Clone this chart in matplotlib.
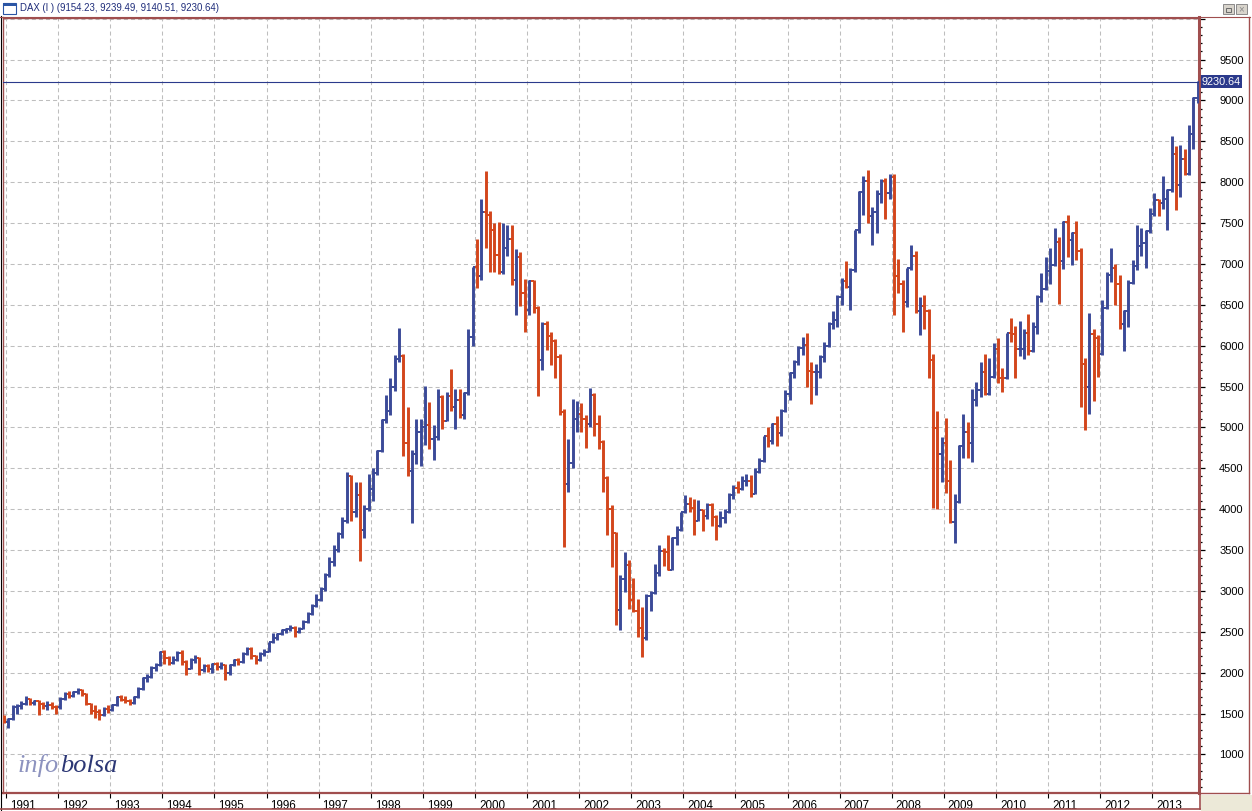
import matplotlib
matplotlib.use("Agg")
import matplotlib.pyplot as plt
import matplotlib.transforms as mtrans
from matplotlib.lines import Line2D
from matplotlib.patches import Rectangle
from matplotlib.ticker import MultipleLocator, FixedLocator
import numpy as np
import pandas as pd

plt.rcParams['font.family'] = ['Liberation Sans', 'DejaVu Sans']
plt.rcParams['lines.scale_dashes'] = False

# ---------------- data (monthly OHLC) ----------------
first_month = "1990-12-01"

open_ = [1450,
 1398,1430,1580,1590,1620,1680,1625,1650,1620,1590,1610,1580,
 1578,1680,1740,1720,1760,1790,1740,1620,1530,1520,1480,1560,
 1545,1600,1700,1670,1650,1630,1700,1800,1930,1950,2060,2090,
 2250,2180,2120,2150,2240,2130,2050,2160,2180,2030,2080,2050,
 2107,2070,2100,2000,2090,2150,2130,2230,2290,2200,2150,2230,
 2254,2370,2430,2470,2520,2530,2550,2500,2540,2620,2720,2810,
 2889,3020,3200,3350,3500,3700,3850,4400,3960,4170,3750,4000,
 4250,4440,4710,5090,5200,5500,5840,5870,4810,4470,4670,4950,
 5002,5030,4860,4880,5370,5080,5380,5250,5330,5150,5420,6100,
 6958,6850,7640,7600,7410,7110,6900,7190,7300,6800,7080,6650,
 6433,6790,6460,5830,6260,6120,6060,5860,5190,4310,4560,5100,
 5160,5100,5040,5400,5040,4820,4380,4000,3710,2770,3150,3320,
 2893,2750,2550,2420,2940,2980,3220,3490,3480,3260,3650,3750,
 3965,4060,4020,3860,3990,3920,4050,3900,3790,3890,3960,4170,
 4256,4250,4350,4350,4190,4460,4590,4890,4830,5040,4930,5200,
 5408,5670,5800,5970,6010,5690,5680,5680,5860,6000,6270,6310,
 6597,6790,6715,6920,7410,7880,8010,7580,7640,7860,8020,7870,
 8067,6850,6750,6530,6950,7100,6420,6480,6420,5830,4990,4670,
 4810,4340,3840,4085,4770,4940,4810,5330,5460,5680,5410,5620,
 5957,5610,5600,6150,6140,5960,5960,6150,5930,6230,6600,6690,
 6914,6990,7270,7040,7510,7290,7380,7160,5780,5500,6140,6090,
 5898,6460,6860,6950,6760,6260,6420,6770,6970,7220,7260,7400,
 7612,7780,7740,7800,7910,8350,7960,8280,8100,8590,9030]

high = [1480,
 1450,1600,1620,1650,1720,1690,1670,1670,1640,1650,1640,1610,
 1700,1760,1770,1780,1815,1800,1750,1630,1600,1550,1580,1600,
 1620,1720,1730,1710,1680,1720,1820,1950,1980,2080,2120,2260,
 2280,2200,2210,2270,2280,2150,2180,2220,2190,2110,2110,2120,
 2130,2130,2110,2110,2170,2180,2250,2314,2310,2220,2250,2290,
 2380,2480,2490,2540,2550,2580,2570,2560,2640,2740,2840,2960,
 3050,3220,3420,3560,3720,3900,4460,4420,4330,4330,4050,4430,
 4500,4720,5100,5400,5600,5880,6217,5900,5250,4720,5100,5100,
 5510,5310,5030,5470,5400,5430,5710,5470,5470,5430,6200,6958,
 7300,7800,8136,7650,7500,7510,7500,7470,7470,7185,7140,6820,
 6800,6800,6480,6290,6300,6170,6080,5900,5230,4860,5350,5320,
 5300,5150,5480,5420,5150,4850,4400,4050,3720,3190,3480,3380,
 3160,2900,2800,2960,3000,3330,3560,3520,3680,3660,3800,3970,
 4175,4150,4130,4110,4000,4080,4070,3930,3980,4000,4200,4300,
 4340,4400,4430,4420,4500,4630,4890,5000,5050,5140,5230,5460,
 5680,5830,6000,6100,6160,5800,5780,5880,6040,6290,6430,6620,
 6830,7040,6950,7420,7890,8070,8151,7700,7900,8040,8050,8100,
 8100,7060,6800,6950,7230,7160,6600,6620,6450,5900,5200,4880,
 5110,4600,4180,4780,5160,5070,5470,5560,5800,5900,5850,6030,
 6090,5730,6160,6340,6240,6300,6200,6390,6290,6620,6890,7080,
 7200,7440,7330,7530,7600,7390,7520,7200,5850,6400,6200,6130,
 6560,6900,7190,7000,6860,6440,6800,7050,7480,7440,7420,7680,
 7870,7800,8070,7920,8560,8440,8460,8400,8700,9040,9240]

low = [1380,
 1322,1420,1500,1560,1600,1600,1610,1480,1560,1545,1560,1500,
 1560,1670,1690,1700,1740,1720,1600,1500,1440,1425,1470,1510,
 1530,1590,1650,1630,1600,1620,1690,1790,1890,1940,2020,2080,
 2110,2090,2110,2140,2100,1970,2040,2120,1970,2010,2010,2000,
 2030,2050,1914,1970,2080,2100,2120,2220,2170,2110,2140,2210,
 2250,2360,2400,2460,2480,2510,2436,2480,2530,2610,2700,2800,
 2880,3000,3170,3300,3480,3650,3830,3860,3900,3370,3650,3980,
 4100,4420,4700,5050,5150,5450,5800,4650,4400,3833,4550,4530,
 4780,4740,4600,4850,4980,5080,5200,4980,5120,5100,5400,6000,
 6700,6800,7200,6900,6900,6880,6880,7100,6740,6370,6490,6170,
 6370,6400,5390,5700,5950,5760,5600,5150,3540,4210,4500,4950,
 4940,4750,5000,4900,4740,4210,3680,3290,2580,2520,2990,2780,
 2740,2440,2190,2400,2760,2960,3180,3300,3250,3250,3560,3730,
 3950,3960,3690,3850,3730,3880,3790,3620,3780,3830,3950,4120,
 4200,4240,4280,4150,4180,4440,4580,4760,4800,4770,4900,5190,
 5330,5600,5760,5880,5500,5290,5400,5600,5800,5980,6200,6230,
 6500,6700,6440,6900,7380,7600,7500,7230,7380,7740,7550,7800,
 6380,6650,6170,6470,6930,6400,6130,6210,5600,4015,4000,4330,
 4200,3830,3590,4080,4620,4620,4580,5260,5370,5400,5400,5600,
 5540,5430,5590,6050,5610,5870,5840,5890,5920,6140,6530,6680,
 6760,6980,6510,6940,7080,6990,7050,5250,4965,5170,5320,5620,
 5890,6450,6780,6500,6200,5940,6230,6760,6920,7100,6950,7380,
 7580,7590,7670,7420,7880,7660,7820,8090,8090,8400,8970]

close = [1398,
 1430,1580,1590,1620,1680,1625,1650,1620,1590,1610,1580,1578,
 1680,1740,1720,1760,1790,1740,1620,1530,1520,1480,1560,1545,
 1600,1700,1670,1650,1630,1700,1800,1930,1950,2060,2090,2250,
 2180,2120,2150,2240,2130,2050,2160,2180,2030,2080,2050,2107,
 2070,2100,2000,2090,2150,2130,2230,2290,2200,2150,2230,2254,
 2370,2430,2470,2520,2530,2550,2500,2540,2620,2720,2810,2889,
 3020,3200,3350,3500,3700,3850,4400,3960,4170,3750,4000,4250,
 4440,4710,5090,5200,5500,5840,5870,4810,4470,4670,4950,5002,
 5030,4860,4880,5370,5080,5380,5250,5330,5150,5420,6100,6958,
 6850,7640,7600,7410,7110,6900,7190,7300,6800,7080,6650,6433,
 6790,6460,5830,6260,6120,6060,5860,5190,4310,4560,5100,5160,
 5100,5040,5400,5040,4820,4380,4000,3710,2770,3150,3320,2893,
 2750,2550,2420,2940,2980,3220,3490,3480,3260,3650,3750,3965,
 4060,4020,3860,3990,3920,4050,3900,3790,3890,3960,4170,4256,
 4250,4350,4350,4190,4460,4590,4890,4830,5040,4930,5200,5408,
 5670,5800,5970,6010,5690,5680,5680,5860,6000,6270,6310,6597,
 6790,6715,6920,7410,7880,8010,7580,7640,7860,8020,7870,8067,
 6850,6750,6530,6950,7100,6420,6480,6420,5830,4990,4670,4810,
 4340,3840,4085,4770,4940,4810,5330,5460,5680,5410,5620,5957,
 5610,5600,6150,6140,5960,5960,6150,5930,6230,6600,6690,6914,
 6990,7270,7040,7510,7290,7380,7160,5780,5500,6140,6090,5898,
 6460,6860,6950,6760,6260,6420,6770,6970,7220,7260,7400,7612,
 7780,7740,7800,7910,8350,7960,8280,8100,8590,9030,9230.64]

year_labels = [str(y) for y in range(1991, 2014)]
price_labels = [str(v) for v in range(1000, 10000, 500)]
last_price = 9230.64
title_text = "DAX (I ) (9154.23, 9239.49, 9140.51, 9230.64)"

# ---------------- figure ----------------
W, H = 1252, 811
fig = plt.figure(figsize=(W / 100, H / 100), dpi=100)
fig.patch.set_facecolor("white")

def fx(px):
    return px / W

def fy(py):
    return 1 - py / H

BROWN = "#a04e4e"
UP = "#3b4a98"
DOWN = "#d3461c"
NAVY = "#2b3a8c"

ax_l, ax_r, ax_t, ax_b = 2.5, 1199, 17.5, 792.5
ax = fig.add_axes([fx(ax_l), fy(ax_b), (ax_r - ax_l) / W, (ax_b - ax_t) / H])
ax.set_facecolor("white")

dates = pd.date_range(first_month, periods=len(close), freq="MS")
xpos = dates.year + (dates.month - 1) / 12 + 0.5 / 12
o = np.array(open_, float)
h = np.array(high, float)
l = np.array(low, float)
c = np.array(close, float)
cols = [UP if cc >= oo else DOWN for oo, cc in zip(o, c)]
d = 0.5 / 12

ax.vlines(xpos, l, h, colors=cols, linewidth=2.1, zorder=3)
ax.hlines(o, xpos - d, xpos, colors=cols, linewidth=1.4, zorder=3)
ax.hlines(c, xpos, xpos + d, colors=cols, linewidth=1.4, zorder=3)

# last price line
ax.axhline(last_price, color=NAVY, linewidth=0.8, zorder=4)

px_per_year = 52.1
ax.set_xlim(1991 - (6 - ax_l) / px_per_year, 1991 + (ax_r - 6) / px_per_year)
ax.set_ylim(534.6, 10014)

# x axis
years = np.arange(1991, 2014)
ax.set_xticks(years)
ax.set_xticklabels(year_labels)
ax.tick_params(axis="x", direction="out", length=3.5, width=0.8, color="black",
               labelsize=8.4, pad=2, labelcolor="black")
offset = mtrans.ScaledTranslation(4 / 100, 0, fig.dpi_scale_trans)
for lab in ax.get_xticklabels():
    lab.set_horizontalalignment("left")
    lab.set_transform(lab.get_transform() + offset)

# y axis on right
ax.yaxis.tick_right()
ax.yaxis.set_major_locator(FixedLocator(list(range(1000, 10001, 500))))
ax.set_yticklabels(price_labels + [""])
ax.yaxis.set_minor_locator(MultipleLocator(100))
ax.tick_params(axis="y", which="major", direction="out", length=4.5, width=0.9,
               color="black", labelsize=8.0, pad=10, labelcolor="black")
ax.tick_params(axis="y", which="minor", direction="out", length=2.3, width=0.9, color="black")
ax.tick_params(axis="y", left=False, labelleft=False)

ax.grid(True, which="major", color="#bebebe", linestyle=(0, (2.9, 2.2)), linewidth=0.75, zorder=0)
ax.set_axisbelow(True)

for s in ["left", "top"]:
    ax.spines[s].set_color(BROWN)
    ax.spines[s].set_linewidth(1.0)
ax.spines["bottom"].set_color(BROWN)
ax.spines["bottom"].set_linewidth(1.6)
ax.spines["right"].set_color(BROWN)
ax.spines["right"].set_linewidth(2.2)

# price tag
ax.annotate(f"{last_price:.2f}", xy=(1.0, last_price), xycoords=("axes fraction", "data"),
            xytext=(3, 0), textcoords="offset pixels", ha="left", va="center",
            fontsize=7.8, color="white", zorder=10, annotation_clip=False,
            bbox=dict(boxstyle="square,pad=0.12", fc=NAVY, ec="none"))

# ---------------- frame decorations ----------------
def fline(x0, y0, x1, y1, color, lw):
    fig.add_artist(Line2D([fx(x0), fx(x1)], [fy(y0), fy(y1)], color=color, linewidth=lw))

fline(0.5, 16, 0.5, 811, "black", 0.8)
fline(0, 17, 1250, 17, BROWN, 0.8)
fline(1248.5, 17, 1248.5, 793, BROWN, 1.0)
fline(1199, 792.5, 1249, 792.5, BROWN, 1.0)
fline(0, 808.5, 1200, 808.5, BROWN, 1.2)
fline(1199.5, 792, 1199.5, 809, BROWN, 1.2)
fig.add_artist(Rectangle((fx(1201), fy(811)), 51 / W, 16 / H, transform=fig.transFigure,
                         facecolor="#ece9d8", edgecolor="none"))

# title bar
fig.add_artist(Rectangle((fx(3), fy(14)), 13 / W, 11 / H, transform=fig.transFigure,
                         facecolor="white", edgecolor="#2a55a5", linewidth=0.8))
fig.add_artist(Rectangle((fx(3), fy(5.5)), 13 / W, 2.5 / H, transform=fig.transFigure,
                         facecolor="#2a55a5", edgecolor="none"))
fig.text(fx(20), fy(8), title_text, ha="left", va="center", fontsize=6.9, color="#1e2c7a")

for bx in (1223, 1236):
    fig.add_artist(Rectangle((fx(bx), fy(14)), 11 / W, 10 / H, transform=fig.transFigure,
                             facecolor="#d8d4cc", edgecolor="#8a8a8a", linewidth=0.7))
fig.add_artist(Rectangle((fx(1226), fy(11.5)), 5 / W, 4 / H, transform=fig.transFigure,
                         facecolor="none", edgecolor="#6a6a6a", linewidth=0.7))
fig.text(fx(1241.5), fy(9), "\u00d7", ha="center", va="center", fontsize=7, color="#8a8a8a")

# logo
t1 = fig.text(fx(18), fy(772), "info", ha="left", va="baseline", fontsize=19,
              family="Liberation Serif", style="italic", color="#8d93bf")
fig.canvas.draw()
bb = t1.get_window_extent()
fig.text(bb.x1 / W + 1 / W, fy(772), "bolsa", ha="left", va="baseline", fontsize=19,
         family="Liberation Serif", style="italic", color="#2c3775")

fig.savefig("out.png", dpi=100, facecolor="white")
